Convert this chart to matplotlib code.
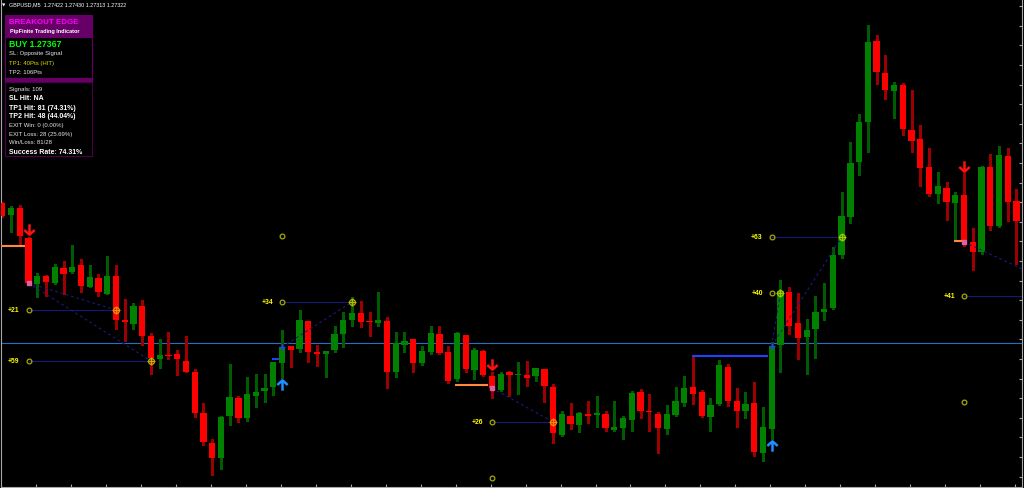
import matplotlib
matplotlib.use("Agg")
import matplotlib.pyplot as plt
import numpy as np
from matplotlib.path import Path
from matplotlib.patches import Rectangle

# ---------------- data ----------------
symbol_line = "GBPUSD,M5  1.27422 1.27430 1.27313 1.27322"
bid_price = 1.27322

opens = [1.27462, 1.27450, 1.27457, 1.27427, 1.27381, 1.27389, 1.27382, 1.27397, 1.27393, 1.27400,
         1.27378, 1.27387, 1.27371, 1.27389, 1.27345, 1.27341, 1.27359, 1.27329, 1.27306, 1.27310,
         1.27311, 1.27304, 1.27293, 1.27252, 1.27222, 1.27207, 1.27249, 1.27267, 1.27247, 1.27269,
         1.27274, 1.27278, 1.27302, 1.27319, 1.27316, 1.27344, 1.27313, 1.27311, 1.27315, 1.27331,
         1.27345, 1.27352, 1.27344, 1.27342, 1.27344, 1.27293, 1.27320, 1.27326, 1.27302, 1.27313,
         1.27331, 1.27313, 1.27286, 1.27330, 1.27295, 1.27314, 1.27289, 1.27275, 1.27293, 1.27290,
         1.27290, 1.27289, 1.27296, 1.27278, 1.27230, 1.27249, 1.27240, 1.27251, 1.27250, 1.27251,
         1.27235, 1.27237, 1.27245, 1.27273, 1.27254, 1.27251, 1.27236, 1.27250, 1.27262, 1.27278,
         1.27273, 1.27248, 1.27261, 1.27298, 1.27264, 1.27254, 1.27262, 1.27212, 1.27236, 1.27320,
         1.27373, 1.27342, 1.27328, 1.27336, 1.27353, 1.27357, 1.27410, 1.27448, 1.27503, 1.27543,
         1.27624, 1.27592, 1.27574, 1.27580, 1.27535, 1.27526, 1.27498, 1.27471, 1.27477, 1.27462,
         1.27470, 1.27423, 1.27413, 1.27498, 1.27439, 1.27509, 1.27464]
highs = [1.27463, 1.27459, 1.27460, 1.27428, 1.27392, 1.27390, 1.27401, 1.27404, 1.27420, 1.27406,
         1.27400, 1.27391, 1.27409, 1.27400, 1.27366, 1.27362, 1.27365, 1.27332, 1.27326, 1.27333,
         1.27315, 1.27329, 1.27296, 1.27262, 1.27226, 1.27249, 1.27301, 1.27269, 1.27288, 1.27291,
         1.27291, 1.27303, 1.27335, 1.27319, 1.27355, 1.27344, 1.27320, 1.27314, 1.27339, 1.27353,
         1.27368, 1.27364, 1.27353, 1.27373, 1.27348, 1.27333, 1.27333, 1.27326, 1.27319, 1.27339,
         1.27339, 1.27319, 1.27333, 1.27330, 1.27317, 1.27315, 1.27293, 1.27293, 1.27294, 1.27303,
         1.27304, 1.27297, 1.27296, 1.27281, 1.27254, 1.27262, 1.27253, 1.27264, 1.27269, 1.27254,
         1.27264, 1.27249, 1.27274, 1.27276, 1.27271, 1.27253, 1.27260, 1.27278, 1.27289, 1.27309,
         1.27275, 1.27267, 1.27305, 1.27301, 1.27277, 1.27273, 1.27283, 1.27258, 1.27323, 1.27385,
         1.27378, 1.27372, 1.27346, 1.27369, 1.27382, 1.27418, 1.27473, 1.27523, 1.27551, 1.27640,
         1.27630, 1.27610, 1.27583, 1.27582, 1.27575, 1.27540, 1.27517, 1.27493, 1.27483, 1.27473,
         1.27492, 1.27437, 1.27499, 1.27511, 1.27519, 1.27517, 1.27476]
lows = [1.27448, 1.27433, 1.27421, 1.27381, 1.27368, 1.27369, 1.27381, 1.27371, 1.27392, 1.27373,
        1.27378, 1.27369, 1.27371, 1.27336, 1.27324, 1.27336, 1.27320, 1.27291, 1.27297, 1.27306,
        1.27290, 1.27293, 1.27248, 1.27220, 1.27190, 1.27196, 1.27240, 1.27243, 1.27244, 1.27258,
        1.27263, 1.27270, 1.27287, 1.27298, 1.27313, 1.27303, 1.27299, 1.27288, 1.27313, 1.27318,
        1.27339, 1.27338, 1.27329, 1.27339, 1.27277, 1.27288, 1.27313, 1.27293, 1.27300, 1.27311,
        1.27311, 1.27282, 1.27284, 1.27293, 1.27286, 1.27289, 1.27267, 1.27274, 1.27269, 1.27271,
        1.27279, 1.27284, 1.27263, 1.27222, 1.27229, 1.27236, 1.27233, 1.27242, 1.27238, 1.27234,
        1.27234, 1.27226, 1.27234, 1.27247, 1.27234, 1.27212, 1.27231, 1.27249, 1.27259, 1.27261,
        1.27248, 1.27234, 1.27260, 1.27259, 1.27238, 1.27247, 1.27209, 1.27204, 1.27226, 1.27293,
        1.27331, 1.27306, 1.27291, 1.27307, 1.27345, 1.27356, 1.27407, 1.27442, 1.27490, 1.27513,
        1.27581, 1.27566, 1.27547, 1.27530, 1.27513, 1.27479, 1.27469, 1.27462, 1.27445, 1.27424,
        1.27419, 1.27395, 1.27411, 1.27435, 1.27438, 1.27444, 1.27401]
closes = [1.27449, 1.27457, 1.27429, 1.27382, 1.27389, 1.27383, 1.27398, 1.27391, 1.27398, 1.27379,
          1.27388, 1.27373, 1.27389, 1.27345, 1.27343, 1.27359, 1.27329, 1.27307, 1.27310, 1.27309,
          1.27306, 1.27293, 1.27252, 1.27223, 1.27207, 1.27248, 1.27268, 1.27247, 1.27271, 1.27273,
          1.27277, 1.27303, 1.27318, 1.27315, 1.27345, 1.27313, 1.27311, 1.27314, 1.27331, 1.27345,
          1.27352, 1.27343, 1.27343, 1.27345, 1.27293, 1.27322, 1.27324, 1.27302, 1.27314, 1.27332,
          1.27312, 1.27284, 1.27332, 1.27296, 1.27315, 1.27290, 1.27277, 1.27291, 1.27290, 1.27291,
          1.27287, 1.27297, 1.27279, 1.27232, 1.27251, 1.27241, 1.27252, 1.27249, 1.27252, 1.27237,
          1.27238, 1.27247, 1.27272, 1.27254, 1.27253, 1.27237, 1.27251, 1.27264, 1.27277, 1.27271,
          1.27249, 1.27260, 1.27300, 1.27264, 1.27254, 1.27261, 1.27213, 1.27238, 1.27319, 1.27374,
          1.27339, 1.27327, 1.27335, 1.27353, 1.27356, 1.27410, 1.27449, 1.27502, 1.27543, 1.27623,
          1.27593, 1.27575, 1.27580, 1.27536, 1.27524, 1.27497, 1.27471, 1.27479, 1.27463, 1.27470,
          1.27423, 1.27413, 1.27498, 1.27439, 1.27510, 1.27463, 1.27444]

# breakout signals
sig_idx = [3, 32, 56, 88, 110]
sig_side = ["sell", "buy", "sell", "buy", "sell"]
sig_entry = [1.27382, 1.27318, 1.27277, 1.27319, 1.27423]
sig_arrow = [1.27436, 1.27280, 1.27301, 1.27219, 1.27499]
brk_start = [-0.2, 30.9, 51.8, 78.9, 108.9]
brk_end = [2.6, 31.7, 55.6, 87.6, 109.9]
brk_price = [1.27419, 1.27306, 1.27280, 1.27309, 1.27424]

# take-profit levels
tp_signal = [0, 0, 1, 1, 2, 2, 3, 3, 4, 4]
tp_price = [1.27355, 1.27304, 1.27363, 1.27429, 1.27243, 1.27187, 1.27372, 1.27428, 1.27369, 1.27263]
tp_label = ["+21", "+59", "+34", "", "+26", "", "+40", "+63", "+41", ""]
tp_hit = [13, 17, 40, None, 63, None, 89, 96, 123.3, None]
tp_hit_color = ["#ff8a00", "#c8b000", "#b8b400", None, "#ff8a00", None, "#a8c800", "#a8c800", None, None]

# dashboard texts
panel_title = "BREAKOUT EDGE"
panel_sub = "PipFinite Trading Indicator"
panel_signal = "BUY 1.27367"
panel_trade = ["SL: Opposite Signal", "TP1: 40Pts (HIT)", "TP2: 106Pts"]
panel_trade_color = ["#e6e6e6", "#d8d800", "#e6e6e6"]
panel_stats = ["Signals: 109", "SL Hit: NA", "TP1 Hit: 81 (74.31%)", "TP2 Hit: 48 (44.04%)",
               "EXIT Win: 0 (0.00%)", "EXIT Loss: 28 (25.69%)", "Win/Loss: 81/28",
               "Success Rate: 74.31%"]
panel_stats_bold = [False, True, True, True, False, False, False, True]

# ---------------- figure ----------------
plt.rcParams["font.family"] = ["Liberation Sans", "DejaVu Sans"]
W, H = 1024, 489
fig = plt.figure(figsize=(W / 100, H / 100), dpi=100, facecolor="black")
ax = fig.add_axes([1 / W, 1 / H, 1021 / W, 488 / H])
ax.set_facecolor("black")
ax.set_xlim(-0.057, 116.63)
ax.set_ylim(1.27178, 1.27666)

o = np.array(opens); h = np.array(highs); l = np.array(lows); c = np.array(closes)
x = np.arange(len(o))
bull = c >= o
bear = ~bull

ax.axhline(bid_price, color="#2470c4", lw=0.8, zorder=1)

ax.vlines(x[bull], l[bull], h[bull], colors="#005c00", lw=0.8, antialiased=False, zorder=2)
ax.vlines(x[bear], l[bear], h[bear], colors="#9c0000", lw=0.8, antialiased=False, zorder=2)
bottom = np.minimum(o, c)
height = np.maximum(np.abs(c - o), 0.000013)
ax.bar(x[bull], height[bull], bottom=bottom[bull], width=0.72, color="#008200",
       linewidth=0, antialiased=False, zorder=3)
ax.bar(x[bear], height[bear], bottom=bottom[bear], width=0.72, color="#ff0000",
       linewidth=0, antialiased=False, zorder=3)

# arrow markers
down_arrow = Path([(0, 0.5), (0, -0.5), (-0.5, -0.05), (0, -0.5), (0.5, -0.05)],
                  [Path.MOVETO, Path.LINETO, Path.MOVETO, Path.LINETO, Path.LINETO])
up_arrow = Path([(0, -0.5), (0, 0.5), (-0.5, 0.05), (0, 0.5), (0.5, 0.05)],
                [Path.MOVETO, Path.LINETO, Path.MOVETO, Path.LINETO, Path.LINETO])

for k in range(len(sig_idx)):
    i = sig_idx[k]
    if sig_side[k] == "sell":
        ax.plot([brk_start[k], brk_end[k]], [brk_price[k], brk_price[k]], color="#ff8a3c",
                lw=1.5, solid_capstyle="butt", zorder=4)
        ax.plot(i, sig_arrow[k], marker=down_arrow, ms=7.5, mew=1.8, mec="#ff1010",
                mfc="none", zorder=6)
        ax.plot(i, sig_entry[k], marker="s", ms=2.2, mec="#e060a0", mfc="#e060a0", zorder=6)
    else:
        ax.plot([brk_start[k], brk_end[k]], [brk_price[k], brk_price[k]], color="#2040ff",
                lw=1.5, solid_capstyle="butt", zorder=4)
        ax.plot(i, sig_arrow[k], marker=up_arrow, ms=7.5, mew=1.8, mec="#1e8fff",
                mfc="none", zorder=6)
        ax.plot(i, sig_entry[k], marker="+", ms=4, mew=1.0, mec="#2a3cff", zorder=6)

for t in range(len(tp_price)):
    k = tp_signal[t]
    i0 = sig_idx[k]
    p = tp_price[t]
    hit = tp_hit[t]
    if hit is not None:
        ax.plot([i0, hit], [p, p], color="#17177a", lw=0.8, zorder=4)
        ax.plot([i0, hit], [sig_entry[k], p], color="#1a1a80", lw=0.8,
                dashes=(2.5, 2.5), zorder=4)
        if tp_hit_color[t] is not None:
            ax.plot(hit, p, marker="o", ms=4.2, mfc="none", mec=tp_hit_color[t], mew=0.9, zorder=7)
            ax.plot(hit, p, marker="+", ms=6.0, mec=tp_hit_color[t], mew=0.9, zorder=7)
    ax.plot(i0, p, marker="o", ms=3.4, mfc="none", mec="#a8a800", mew=0.9, zorder=7)
    if tp_label[t]:
        ax.annotate(tp_label[t], xy=(i0, p), xytext=(-9, 0), textcoords="offset pixels",
                    ha="right", va="center", color="#ffff00", fontsize=4.9,
                    fontweight="bold", zorder=8)

# axes frame
ax.spines["top"].set_visible(False)
for side in ["left", "bottom", "right"]:
    ax.spines[side].set_color("#a8a8a8")
    ax.spines[side].set_linewidth(0.8)
ax.yaxis.tick_right()
ax.set_yticks(1.27600 + 0.000196 * np.arange(-21, 4))
ax.set_xticks(np.arange(0, 117, 4) - 0.15)
ax.tick_params(axis="both", direction="in", length=2.2, width=0.8, color="#a8a8a8",
               labelleft=False, labelright=False, labelbottom=False)


# ---------------- dashboard (figure pixel coordinates) ----------------
def fx(px):
    return px / W


def fy(py):
    return 1 - py / H


def rect(x0, y0, x1, y1, **kw):
    fig.add_artist(Rectangle((fx(x0), fy(y1)), (x1 - x0) / W, (y1 - y0) / H,
                             transform=fig.transFigure, **kw))


purple = "#660066"
rect(5, 16, 92, 38, facecolor=purple, edgecolor=purple, lw=0.8, zorder=10)
rect(5, 38, 92, 79, facecolor="black", edgecolor=purple, lw=0.8, zorder=10)
rect(5, 79, 92, 83, facecolor=purple, edgecolor=purple, lw=0.8, zorder=10)
rect(5, 83, 92, 157, facecolor="black", edgecolor="#4e004e", lw=0.8, zorder=10)

fig.text(fx(9), fy(23), panel_title, color="#ff00ff", fontsize=5.7, fontweight="bold",
         va="center", ha="left", zorder=11)
fig.text(fx(10), fy(32), panel_sub, color="#ffffff", fontsize=4.0, fontweight="bold",
         va="center", ha="left", zorder=11)
fig.text(fx(9), fy(44.5), panel_signal, color="#00ff00", fontsize=6.3, fontweight="bold",
         va="center", ha="left", zorder=11)
for j, s in enumerate(panel_trade):
    fig.text(fx(9), fy(54 + 9 * j), s, color=panel_trade_color[j], fontsize=4.3,
             va="center", ha="left", zorder=11)
stat_y = [89, 99, 108, 117, 125.5, 134.5, 143, 152]
for j, s in enumerate(panel_stats):
    b = panel_stats_bold[j]
    fig.text(fx(9), fy(stat_y[j]), s, color="#ffffff" if b else "#e6e6e6",
             fontsize=5.0 if b else 4.3, fontweight="bold" if b else "normal",
             va="center", ha="left", zorder=11)

# header line
fig.text(fx(2), fy(5.5), "\u25bc", color="white", fontsize=3.2, family="DejaVu Sans",
         va="center", ha="left")
fig.text(fx(9), fy(5), symbol_line, color="white", fontsize=3.9, va="center", ha="left")

fig.savefig("out.png", dpi=100, facecolor="black")
